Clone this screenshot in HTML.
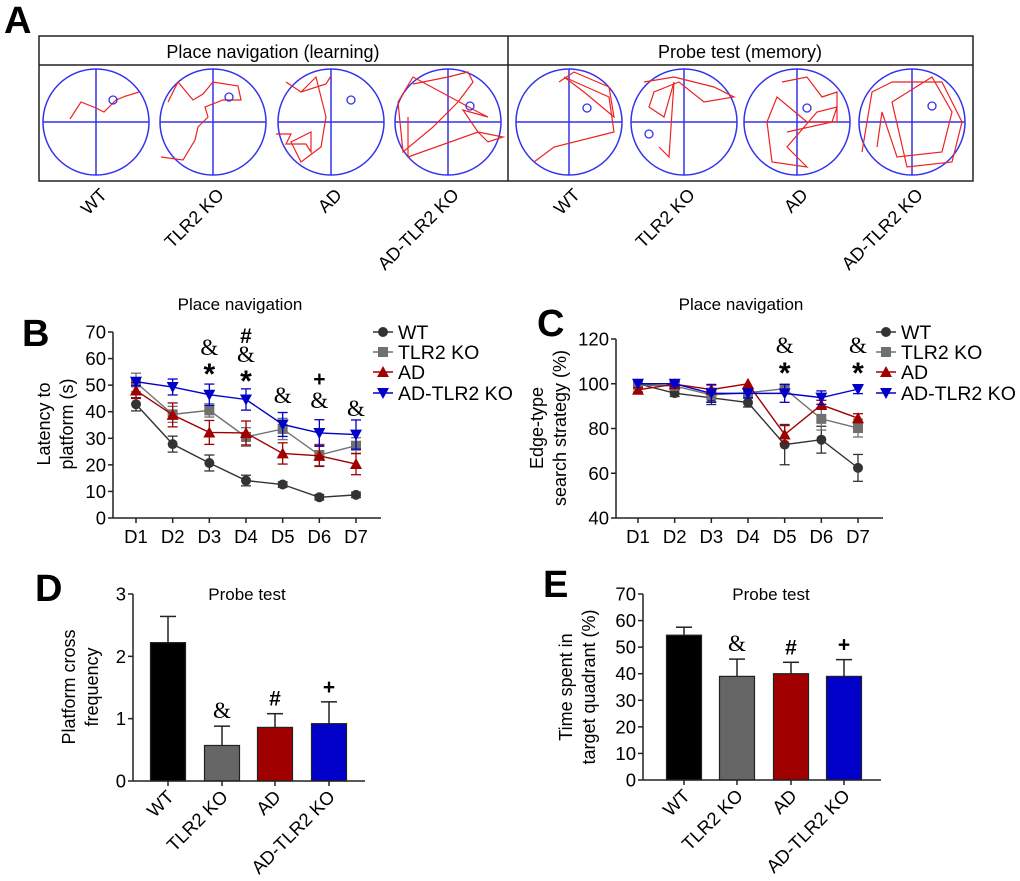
<!DOCTYPE html>
<html><head><meta charset="utf-8"><style>
html,body{margin:0;padding:0;background:#fff}
svg{display:block;font-family:"Liberation Sans",Arial,sans-serif}
</style></head><body>
<svg id="fig" width="1020" height="881" viewBox="0 0 1020 881" xmlns="http://www.w3.org/2000/svg">
<g>
<text x="4" y="33" font-size="38" font-weight="bold">A</text>
<rect x="39" y="36" width="934" height="145" fill="none" stroke="#222" stroke-width="1.5"/>
<line x1="39" y1="65" x2="973" y2="65" stroke="#222" stroke-width="1.5"/>
<line x1="508" y1="36" x2="508" y2="181" stroke="#222" stroke-width="1.5"/>
<text x="273" y="58" font-size="18" text-anchor="middle">Place navigation (learning)</text>
<text x="740" y="58" font-size="18" text-anchor="middle">Probe test (memory)</text>
<g id="mazes"></g>
</g>
<g id="panelB"></g>
<g id="panelC"></g>
<g id="panelD"></g>
<g id="panelE"></g>
</svg>
<script>
const NS="http://www.w3.org/2000/svg";
const groups=["WT","TLR2 KO","AD","AD-TLR2 KO"];
const colors=["#333333","#707070","#a00000","#0000c8"];
const barColors=["#000000","#666666","#a00000","#0000c8"];
const days=["D1","D2","D3","D4","D5","D6","D7"];
// Panel B
const bWT=[42.8,27.8,20.7,14.1,12.6,7.8,8.7];
const bTLR=[51,39,40.5,30.5,33.5,23.7,27.2];
const bAD=[48,38.8,32.2,32,24.3,23.4,20.3];
const bADT=[51.3,49.3,46.4,44.6,35.2,32,31.4];
const bErr=[[2.5,3,3,2,1,1,1],[3.5,3,2.5,3.5,4,4,3],[3,4.5,4.5,4.5,4,4,4],[1.5,3,4,4,4.5,5,5.5]];
const bTicks=[0,10,20,30,40,50,60,70];
// Panel C
const cWT=[100,95.8,93.7,91.6,72.8,75,62.4];
const cTLR=[99.5,99,95,96,97.8,84.3,80.2];
const cAD=[97.3,99.8,97.4,100,77.3,90.6,84.6];
const cADT=[100,100,95.7,95.7,95.7,93.8,97.6];
const cErr=[[0,1.5,3,2,9,6,6],[1,1,3,2,2,5,4],[1,1,2,0,4,2,2],[0,1,4,2,4,3,2]];
const cTicks=[40,60,80,100,120];
// Panel D
const dVals=[2.22,0.57,0.86,0.92];
const dErr=[0.42,0.31,0.22,0.35];
const dTicks=[0,1,2,3];
const dMarks=["","&","#","+"];
// Panel E
const eVals=[54.5,39,40,39];
const eErr=[3,6.5,4.3,6.3];
const eTicks=[0,10,20,30,40,50,60,70];
const eMarks=["","&","#","+"];

function el(tag,attrs,parent,txt){const e=document.createElementNS(NS,tag);for(const k in attrs)e.setAttribute(k,attrs[k]);if(txt!==undefined)e.textContent=txt;parent.appendChild(e);return e;}

// mazes
const mz=document.getElementById("mazes");
const centers=[96,213,331,448,569,684,797,912];
const trajs=[
"-26,-3 -15,-20 0,-14 8,-10 20,-22 30,-26 43,-30",
"-45,-20 -35,-40 -20,-22 -10,-28 0,-40 25,-36 28,-22 10,-22 -8,-15 -5,-5 -15,5 -18,18 -30,38 -52,35",
"0,-46 -5,-38 -30,-30 -45,-40 -30,-30 -15,-45 -5,-5 -10,25 -30,40 -40,20 -20,10 -20,30 -25,22 -45,22 -40,12 -55,12",
"-35,-38 0,-45 20,-50 25,-40 10,-20 -15,5 -45,30 -50,-20 -35,-45 30,-10 40,-5 15,-12 30,10 40,20 55,15 30,10 -40,35 -40,-5",
"-10,-40 5,-50 40,-35 45,-5 15,-30 -5,-45 40,-25 45,10 -15,25 -35,40 -35,40",
"-40,-40 -10,-45 30,-35 50,-25 20,-20 -5,-40 -30,-30 -35,-15 -20,-5 -10,-40 -15,35 -25,25",
"-15,-40 10,-45 25,-25 40,-30 40,0 10,0 -20,-25 -30,0 -25,40 10,45 -10,25 20,-10 40,-15 35,0 -10,10",
"-50,30 -40,-30 -20,-40 30,-40 50,0 40,40 -5,45 -20,-20 20,-45 40,-10 30,30 -15,35 -30,-10 -35,25"];
centers.forEach((cx,i)=>{const cy=122;
el("circle",{cx:cx,cy:cy,r:53,fill:"none",stroke:"#3333ee","stroke-width":1.5},mz);
el("line",{x1:cx-53,y1:cy,x2:cx+53,y2:cy,stroke:"#3333ee","stroke-width":1.5},mz);
el("line",{x1:cx,y1:cy-53,x2:cx,y2:cy+53,stroke:"#3333ee","stroke-width":1.5},mz);
const p=el("polyline",{points:trajs[i].split(" ").map(s=>{const [a,b]=s.split(",").map(Number);return (cx+a)+","+(122+b)}).join(" "),fill:"none",stroke:"#ee2222","stroke-width":1.2},mz);


el("circle",{cx:cx+[17,16,20,22,18,-35,10,20][i],cy:122-[22,25,22,16,14,-12,14,16][i],r:4,fill:"none",stroke:"#3333ee","stroke-width":1.3},mz);
const t=el("text",{x:cx+12,y:196,"font-size":18,"text-anchor":"end",transform:`rotate(-45 ${cx+12} 196)`},mz,groups[i%4]);


});

function annot(g,x,s,y){
const star=s=="*", amp=s=="&";
return el("text",{x:x,y:star?y+14:y,"font-size":star?30:(amp?23:21),"text-anchor":"middle","font-family":amp?"Liberation Serif,serif":"Liberation Sans,sans-serif","font-weight":amp?"normal":"bold"},g,s);
}

function lineChart(g,o){
const X=i=>o.x0+(o.x1-o.x0)*i/6;
const Y=v=>o.yb+(o.yt-o.yb)*(v-o.min)/(o.max-o.min);
el("text",{x:o.letter[0],y:o.letter[1],"font-size":38,"font-weight":"bold"},g,o.L);
el("text",{x:o.titleX,y:310,"font-size":17,"text-anchor":"middle"},g,"Place navigation");
el("line",{x1:o.ax,y1:o.yt,x2:o.ax,y2:o.yb,stroke:"#222","stroke-width":1.5},g);
el("line",{x1:o.ax,y1:o.yb,x2:o.axEnd,y2:o.yb,stroke:"#222","stroke-width":1.5},g);
o.ticks.forEach(v=>{el("line",{x1:o.ax-5,y1:Y(v),x2:o.ax,y2:Y(v),stroke:"#222","stroke-width":1.5},g);
const t=el("text",{x:o.ax-7,y:Y(v)+6.5,"font-size":18.5,"text-anchor":"end"},g,v);
});
days.forEach((d,i)=>{el("line",{x1:X(i),y1:o.yb,x2:X(i),y2:o.yb+5,stroke:"#222","stroke-width":1.5},g);
const t=el("text",{x:X(i),y:o.yb+25,"font-size":18.5,"text-anchor":"middle"},g,d);
});
const yl=el("text",{transform:`translate(${o.ylx},${o.yly}) rotate(-90)`,"font-size":18,"text-anchor":"middle"},g);
el("tspan",{x:0,dy:0},yl,o.yl1);el("tspan",{x:0,dy:23},yl,o.yl2);

o.series.forEach((s,k)=>{const c=colors[k];
el("polyline",{points:s.map((v,i)=>X(i)+","+Y(v)).join(" "),fill:"none",stroke:c,"stroke-width":1.4},g);
s.forEach((v,i)=>{const e=o.err[k][i];
if(e>0){el("line",{x1:X(i),y1:Y(v-e),x2:X(i),y2:Y(v+e),stroke:c,"stroke-width":1.3},g);
el("line",{x1:X(i)-5,y1:Y(v+e),x2:X(i)+5,y2:Y(v+e),stroke:c,"stroke-width":1.3},g);
el("line",{x1:X(i)-5,y1:Y(v-e),x2:X(i)+5,y2:Y(v-e),stroke:c,"stroke-width":1.3},g);}
const m=marker(g,k,X(i),Y(v));


});});
const ly=[332,352,372,393];
groups.forEach((n,k)=>{const lg=el("g",{},g);


el("line",{x1:o.lx,y1:ly[k],x2:o.lx+20,y2:ly[k],stroke:colors[k],"stroke-width":1.4},lg);
marker(lg,k,o.lx+10,ly[k]);
el("text",{x:o.lx+25,y:ly[k]+7,"font-size":19.5},lg,n);});
o.ann.forEach(a=>annot(g,X(a[0]),a[1],a[2]));
}
function marker(g,k,x,y){const c=colors[k];
if(k==0)return el("circle",{cx:x,cy:y,r:5,fill:c},g);
if(k==1)return el("rect",{x:x-5,y:y-5,width:10,height:10,fill:c},g);
if(k==2)return el("polygon",{points:`${x},${y-6} ${x-6},${y+5} ${x+6},${y+5}`,fill:c},g);
return el("polygon",{points:`${x},${y+6} ${x-6},${y-5} ${x+6},${y-5}`,fill:c},g);}

lineChart(document.getElementById("panelB"),{L:"B",letter:[22,346],titleX:240,x0:136,x1:356,yb:518,yt:332,min:0,max:70,ax:113,axEnd:381,ticks:bTicks,
ylx:50,yly:424,yl1:"Latency to",yl2:"platform (s)",series:[bWT,bTLR,bAD,bADT],err:bErr,lx:373,
ann:[[2,"&",355],[2,"*",370],[3,"#",343],[3,"&",362],[3,"*",377],[4,"&",403],[5,"+",386],[5,"&",408],[6,"&",416]]});
lineChart(document.getElementById("panelC"),{L:"C",letter:[537,336],titleX:741,x0:638,x1:858,yb:518,yt:339,min:40,max:120,ax:616,axEnd:883,ticks:cTicks,
ylx:543,yly:428,yl1:"Edge-type",yl2:"search strategy (%)",series:[cWT,cTLR,cAD,cADT],err:cErr,lx:876,
ann:[[4,"&",353],[4,"*",369],[6,"&",353],[6,"*",369]]});

function barChart(g,o){
const Y=v=>o.yb+(o.yt-o.yb)*v/o.max;
el("text",{x:o.letter[0],y:o.letter[1],"font-size":38,"font-weight":"bold"},g,o.L);
el("text",{x:o.titleX,y:600,"font-size":17,"text-anchor":"middle"},g,"Probe test");
o.vals.forEach((v,i)=>{const cx=o.cs[i];
el("line",{x1:cx,y1:Y(v),x2:cx,y2:Y(v+o.err[i]),stroke:"#222","stroke-width":1.5},g);
el("line",{x1:cx-8,y1:Y(v+o.err[i]),x2:cx+8,y2:Y(v+o.err[i]),stroke:"#222","stroke-width":1.5},g);
const b=el("rect",{x:cx-17.5,y:Y(v),width:35,height:o.yb-Y(v),fill:barColors[i],stroke:"#222","stroke-width":1.2},g);


if(o.marks[i])annot(g,cx,o.marks[i],Y(v+o.err[i])-8);
el("line",{x1:cx,y1:o.yb,x2:cx,y2:o.yb+5,stroke:"#222","stroke-width":1.5},g);
const t=el("text",{x:cx+7,y:o.yb+17,"font-size":18.5,"text-anchor":"end",transform:`rotate(-45 ${cx+7} ${o.yb+17})`},g,groups[i]);

});
el("line",{x1:o.ax,y1:o.yt,x2:o.ax,y2:o.yb,stroke:"#222","stroke-width":1.5},g);
el("line",{x1:o.ax,y1:o.yb,x2:o.axEnd,y2:o.yb,stroke:"#222","stroke-width":1.5},g);
o.ticks.forEach(v=>{el("line",{x1:o.ax-5,y1:Y(v),x2:o.ax,y2:Y(v),stroke:"#222","stroke-width":1.5},g);
const t=el("text",{x:o.ax-7,y:Y(v)+6.5,"font-size":18.5,"text-anchor":"end"},g,v);
});
const yl=el("text",{transform:`translate(${o.ylx},${o.yly}) rotate(-90)`,"font-size":18,"text-anchor":"middle"},g);
el("tspan",{x:0,dy:0},yl,o.yl1);el("tspan",{x:0,dy:23},yl,o.yl2);

}
barChart(document.getElementById("panelD"),{L:"D",letter:[35,601],titleX:247,yb:781,yt:594,max:3,ax:133,axEnd:365,cs:[168,222,275,329],vals:dVals,err:dErr,ticks:dTicks,marks:dMarks,ylx:75,yly:687,yl1:"Platform cross",yl2:"frequency"});
barChart(document.getElementById("panelE"),{L:"E",letter:[543,597],titleX:771,yb:780,yt:594,max:70,ax:643,axEnd:881,cs:[684,737,791,844],vals:eVals,err:eErr,ticks:eTicks,marks:eMarks,ylx:572,yly:687,yl1:"Time spent in",yl2:"target quadrant (%)"});
</script>
</body></html>
